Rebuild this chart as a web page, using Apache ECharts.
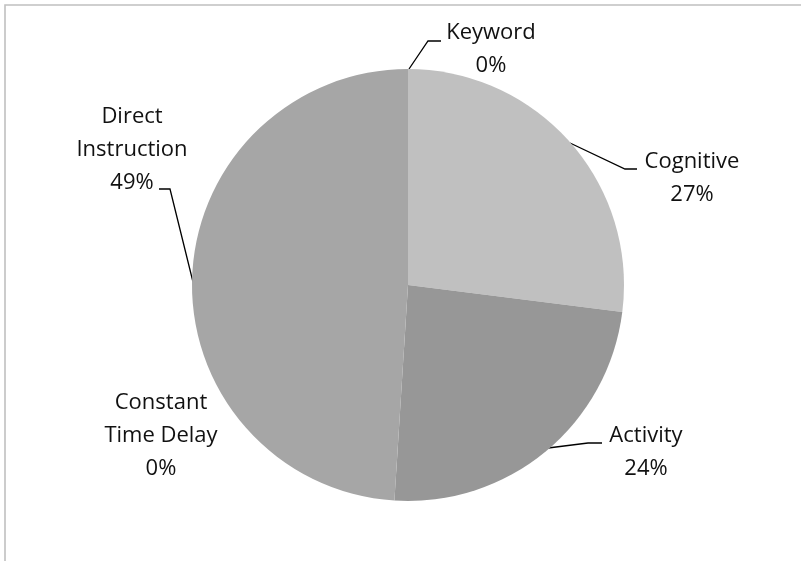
<!DOCTYPE html>
<html>
<head>
<meta charset="utf-8">
<script src="https://cdn.jsdelivr.net/npm/echarts@6/dist/echarts.min.js"></script>
<style>
  html, body { margin: 0; padding: 0; background: #fff; }
  #chart { width: 801px; height: 561px; }
</style>
</head>
<body>
<div id="chart"></div>
<script>
// Share of instructional strategies
const categories = ['Keyword', 'Cognitive', 'Activity', 'Constant Time Delay', 'Direct Instruction'];
const values = [0, 27, 24, 0, 49];
const labelTexts = ['Keyword\n0%', 'Cognitive\n27%', 'Activity\n24%', 'Constant\nTime Delay\n0%', 'Direct\nInstruction\n49%'];
const sliceColors = ['#a6a6a6', '#c0c0c0', '#979797', '#b0b0b0', '#a6a6a6'];

// Where each label block sits and how its leader line runs
const labelSpots = [
  { x: 491, y: 49, line: [[409, 69], [428, 41], [441, 41]] },
  { x: 692, y: 178, line: [[570, 143], [625, 169], [637, 169]] },
  { x: 646, y: 452, line: [[548, 448], [588, 443], [602, 443]] },
  { x: 161, y: 436, line: null },
  { x: 132, y: 150, line: [[193, 282], [170, 189], [159, 189]] }
];

const chart = echarts.init(document.getElementById('chart'), null, { renderer: 'canvas' });

const data = categories.map((name, i) => ({
  name: name,
  value: values[i],
  itemStyle: { color: sliceColors[i] },
  label: { formatter: labelTexts[i] },
  labelLine: { show: !!labelSpots[i].line }
}));

chart.setOption({
  animation: false,
  backgroundColor: '#ffffff',
  graphic: [{
    type: 'rect',
    shape: { x: 5, y: 5, width: 900, height: 700 },
    style: { fill: 'none', stroke: '#c0c0c0', lineWidth: 1.6 },
    silent: true
  }],
  series: [{
    type: 'pie',
    center: [408, 285],
    radius: 216,
    startAngle: 90,
    clockwise: true,
    avoidLabelOverlap: false,
    stillShowZeroSum: true,
    itemStyle: { borderWidth: 0 },
    label: {
      show: true,
      color: '#111',
      fontFamily: '"Open Sans", sans-serif',
      fontSize: 22,
      lineHeight: 33,
      align: 'center'
    },
    labelLine: {
      show: true,
      lineStyle: { color: '#000', width: 1.3 }
    },
    labelLayout: function (params) {
      const spot = labelSpots[params.dataIndex];
      const out = { x: spot.x, y: spot.y, align: 'center', verticalAlign: 'middle' };
      if (spot.line) out.labelLinePoints = spot.line;
      return out;
    },
    emphasis: { disabled: true },
    data: data
  }]
});
</script>
</body>
</html>
